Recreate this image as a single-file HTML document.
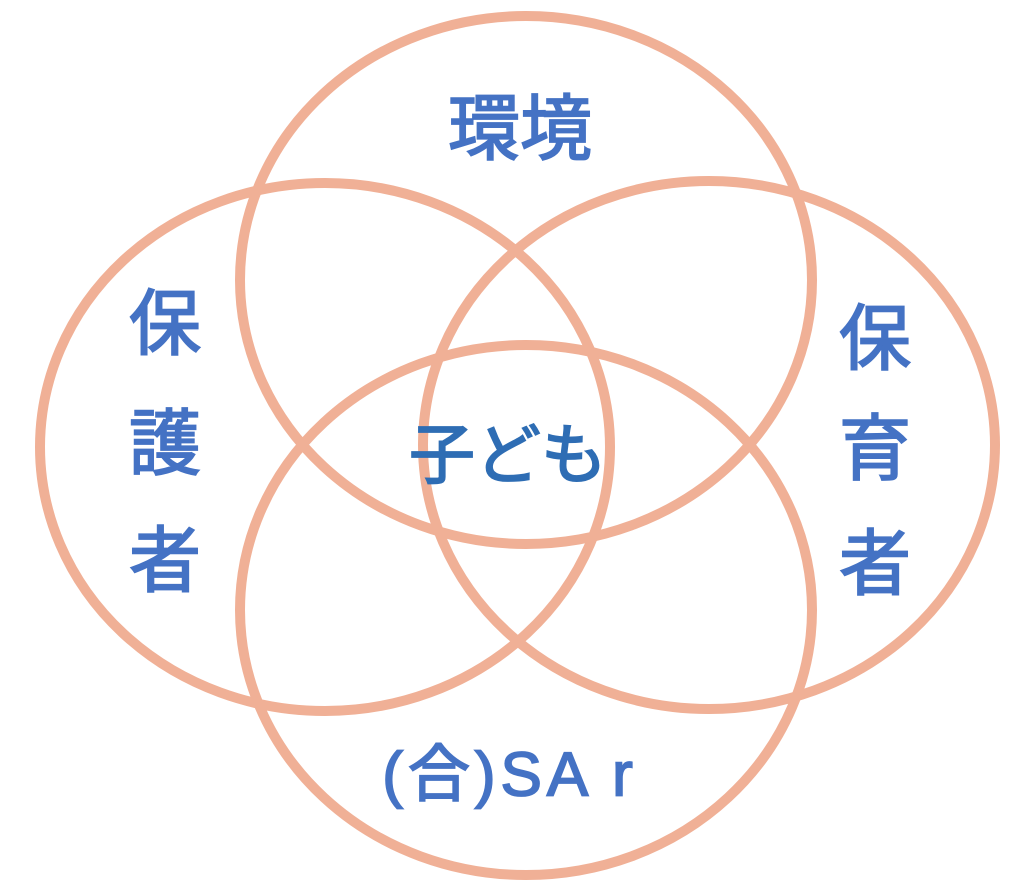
<!DOCTYPE html>
<html><head><meta charset="utf-8"><style>
html,body{margin:0;padding:0;background:#fff;}
svg{display:block}
text{font-family:"Liberation Sans","Noto Sans CJK JP",sans-serif;font-weight:normal;fill:#4472C4;stroke:#4472C4;stroke-width:1.8;text-anchor:middle;dominant-baseline:central}
</style></head><body>
<svg width="1024" height="884" viewBox="0 0 1024 884">
<g fill="none" stroke="#F0B096" stroke-width="10">
<ellipse cx="526" cy="280" rx="286" ry="264"/>
<ellipse cx="325" cy="447" rx="285" ry="264"/>
<ellipse cx="709" cy="445" rx="286" ry="264"/>
<ellipse cx="526" cy="610" rx="286" ry="265"/>
</g>
<text x="520" y="130" font-size="72">環境</text>
<text x="165" y="325" font-size="72">保</text>
<text x="165" y="445" font-size="72">護</text>
<text x="165" y="562" font-size="72">者</text>
<text x="875" y="340" font-size="72">保</text>
<text x="875" y="450" font-size="72">育</text>
<text x="875" y="565" font-size="72">者</text>
<text x="508" y="455" font-size="66" style="fill:#2E6DB4;stroke:#2E6DB4">子ども</text>
<text x="510" y="775" font-size="62" letter-spacing="5">(合)SA r</text>
</svg>
</body></html>
